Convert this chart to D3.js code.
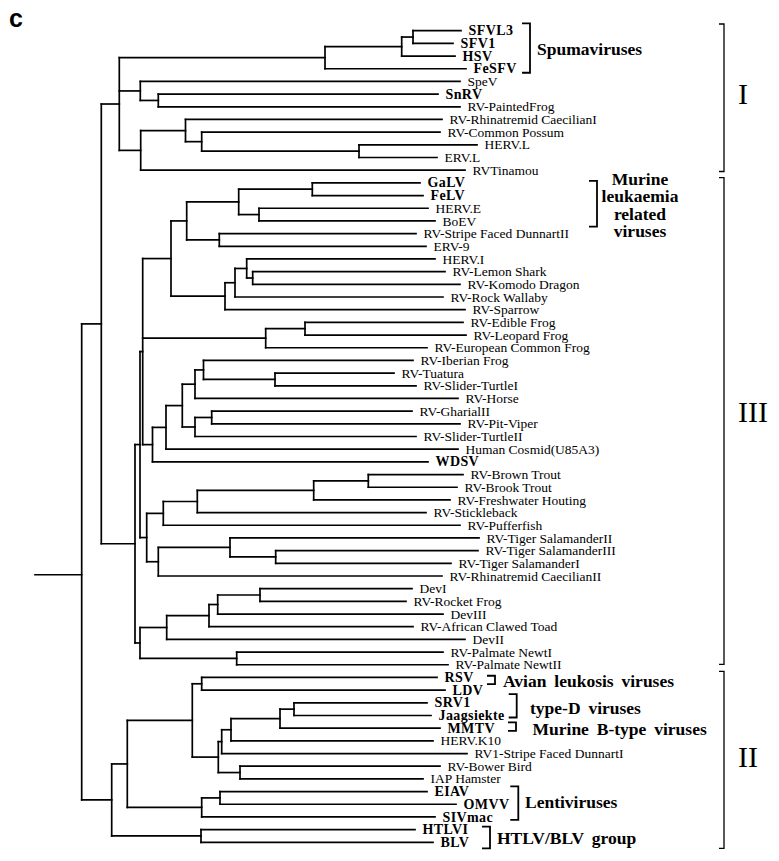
<!DOCTYPE html>
<html>
<head>
<meta charset="utf-8">
<script src="https://cdn.jsdelivr.net/npm/d3@7/dist/d3.min.js"></script>
<style>
  html, body { margin: 0; padding: 0; background: #fff; }
  svg { display: block; }
  .leaf { font-family: "Liberation Serif", "Times New Roman", serif; font-size: 13.5px; fill: #000; }
  .leaf.bold { font-weight: bold; font-size: 14px; letter-spacing: 0.4px; }
  .group { font-family: "Liberation Serif", "Times New Roman", serif; font-weight: bold; font-size: 17.5px; fill: #000; word-spacing: 3.5px; }
  .roman { font-family: "Liberation Serif", "Times New Roman", serif; font-size: 30px; fill: #000; }
  .panel { font-family: "Liberation Sans", Arial, sans-serif; font-weight: bold; font-size: 25px; fill: #000; }
</style>
</head>
<body>
<svg id="chart" width="779" height="861"></svg>
<script>
// ---------------- DATA ----------------
// Leaves, top to bottom
const leaves = [
  "SFVL3","SFV1","HSV","FeSFV","SpeV","SnRV","RV-PaintedFrog","RV-Rhinatremid CaecilianI",
  "RV-Common Possum","HERV.L","ERV.L","RVTinamou","GaLV","FeLV","HERV.E","BoEV",
  "RV-Stripe Faced DunnartII","ERV-9","HERV.I","RV-Lemon Shark","RV-Komodo Dragon","RV-Rock Wallaby","RV-Sparrow",
  "RV-Edible Frog","RV-Leopard Frog","RV-European Common Frog","RV-Iberian Frog","RV-Tuatura","RV-Slider-TurtleI",
  "RV-Horse","RV-GharialII","RV-Pit-Viper","RV-Slider-TurtleII","Human Cosmid(U85A3)","WDSV",
  "RV-Brown Trout","RV-Brook Trout","RV-Freshwater Houting","RV-Stickleback","RV-Pufferfish",
  "RV-Tiger SalamanderII","RV-Tiger SalamanderIII","RV-Tiger SalamanderI","RV-Rhinatremid CaecilianII",
  "DevI","RV-Rocket Frog","DevIII","RV-African Clawed Toad","DevII","RV-Palmate NewtI","RV-Palmate NewtII",
  "RSV","LDV","SRV1","Jaagsiekte","MMTV","HERV.K10","RV1-Stripe Faced DunnartI","RV-Bower Bird","IAP Hamster",
  "EIAV","OMVV","SIVmac","HTLVI","BLV"
];
// Tip depth (distance from root stub) for each leaf, same order
const tipDepth = [
  426,418,420,431,425,403,425,407,
  405,442,402,430,385,388,393,400,
  381,391,400,410,425,408,430,
  428,431,392,378,359,381,
  423,377,425,381,423,393,
  428,422,415,391,425,
  444,443,416,407,
  377,371,408,378,430,408,413,
  402,410,392,396,405,398,432,405,388,
  392,421,400,380,398
];
const boldLeaves = ["SFVL3","SFV1","HSV","FeSFV","SnRV","GaLV","FeLV","WDSV","RSV","LDV",
  "SRV1","Jaagsiekte","MMTV","EIAV","OMVV","SIVmac","HTLVI","BLV"];

// Internal nodes: [id, depth, children]
const nodes = [
  ["root", 46.7, ["A","B"]],
  ["A", 66.3, ["I","R3"]],
  ["I", 84.3, ["Sp","Se","L"]],
  ["Sp", 290, ["Sp1","FeSFV"]],
  ["Sp1", 366.7, ["Sp2","HSV"]],
  ["Sp2", 378, ["SFVL3","SFV1"]],
  ["Se", 105.3, ["SpeV","Se1"]],
  ["Se1", 123.3, ["SnRV","RV-PaintedFrog"]],
  ["L", 105.7, ["L1","RVTinamou"]],
  ["L1", 150.5, ["RV-Rhinatremid CaecilianI","L2"]],
  ["L2", 166.7, ["RV-Common Possum","L3"]],
  ["L3", 324, ["HERV.L","ERV.L"]],
  ["R3", 100, ["U","Z"]],
  ["U", 105, ["V","X"]],
  ["V", 107.7, ["G","Fr","W"]],
  ["G", 136, ["M","H"]],
  ["M", 151.7, ["M1","M2"]],
  ["M1", 203.7, ["M3","M4"]],
  ["M3", 277.3, ["GaLV","FeLV"]],
  ["M4", 224, ["HERV.E","BoEV"]],
  ["M2", 184.3, ["RV-Stripe Faced DunnartII","ERV-9"]],
  ["H", 190, ["H1","RV-Sparrow"]],
  ["H1", 200, ["H2","RV-Rock Wallaby"]],
  ["H2", 211.7, ["HERV.I","H3"]],
  ["H3", 217.7, ["RV-Lemon Shark","RV-Komodo Dragon"]],
  ["Fr", 230.7, ["Fr1","RV-European Common Frog"]],
  ["Fr1", 270, ["RV-Edible Frog","RV-Leopard Frog"]],
  ["W", 117.5, ["T1","WDSV"]],
  ["T1", 131, ["T2","Human Cosmid(U85A3)"]],
  ["T2", 147.3, ["T3","T5"]],
  ["T3", 160, ["T4","RV-Horse"]],
  ["T4", 168.5, ["RV-Iberian Frog","T6"]],
  ["T6", 240, ["RV-Tuatura","RV-Slider-TurtleI"]],
  ["T5", 160, ["T7","RV-Slider-TurtleII"]],
  ["T7", 176.7, ["RV-GharialII","RV-Pit-Viper"]],
  ["X", 111.7, ["F1","S1"]],
  ["F1", 128.3, ["F2","RV-Pufferfish"]],
  ["F2", 162.3, ["F3","RV-Stickleback"]],
  ["F3", 278.7, ["F4","RV-Freshwater Houting"]],
  ["F4", 333.3, ["RV-Brown Trout","RV-Brook Trout"]],
  ["S1", 123.3, ["S2","RV-Rhinatremid CaecilianII"]],
  ["S2", 195, ["RV-Tiger SalamanderII","S3"]],
  ["S3", 240.7, ["RV-Tiger SalamanderIII","RV-Tiger SalamanderI"]],
  ["Z", 105, ["Y","Pal"]],
  ["Y", 131.7, ["Y1","DevII"]],
  ["Y1", 174, ["Y2","RV-African Clawed Toad"]],
  ["Y2", 182.7, ["Y3","DevIII"]],
  ["Y3", 225, ["DevI","RV-Rocket Frog"]],
  ["Pal", 201.7, ["RV-Palmate NewtI","RV-Palmate NewtII"]],
  ["B", 76.7, ["C2","HT"]],
  ["C2", 92.3, ["C3","Le"]],
  ["C3", 157.3, ["AL","K"]],
  ["AL", 166.7, ["RSV","LDV"]],
  ["K", 183.3, ["K1","K5"]],
  ["K1", 186.7, ["K2","RV1-Stripe Faced DunnartI"]],
  ["K2", 196, ["K3","HERV.K10"]],
  ["K3", 245, ["K4","MMTV"]],
  ["K4", 259, ["SRV1","Jaagsiekte"]],
  ["K5", 205, ["RV-Bower Bird","IAP Hamster"]],
  ["Le", 166.7, ["Le1","SIVmac"]],
  ["Le1", 185, ["EIAV","OMVV"]],
  ["HT", 166, ["HTLVI","BLV"]]
];
// Root stub row (in leaf-row units)
const rootRow = 42.9;

// Group brackets: [label lines, first leaf, last leaf]
const groups = [
  [["Spumaviruses"], "SFVL3", "FeSFV"],
  [["Murine","leukaemia","related","viruses"], "GaLV", "BoEV"],
  [["Avian leukosis viruses"], "RSV", "LDV"],
  [["type-D viruses"], "SRV1", "Jaagsiekte"],
  [["Murine B-type viruses"], "MMTV", "MMTV"],
  [["Lentiviruses"], "EIAV", "SIVmac"],
  [["HTLV/BLV group"], "HTLVI", "BLV"]
];
const classes = [["I","SFVL3","RVTinamou"],["III","GaLV","RV-Palmate NewtII"],["II","RSV","BLV"]];

// ---------------- DRAW ----------------
const svg = d3.select("#chart");
svg.append("rect").attr("width", 779).attr("height", 861).attr("fill", "#fff");

const x = d3.scaleLinear().domain([0, 445]).range([35, 480]);
const y = d3.scaleLinear().domain([0, leaves.length - 1]).range([30.7, 842.3]);

const nodeMap = new Map(nodes.map(n => [n[0], n]));
const leafIndex = new Map(leaves.map((l, i) => [l, i]));
const posY = new Map(), posX = new Map();
function place(id) {
  if (posY.has(id)) return posY.get(id);
  let yy;
  if (leafIndex.has(id)) {
    const i = leafIndex.get(id);
    yy = y(i);
    posX.set(id, x(tipDepth[i]));
  } else {
    const n = nodeMap.get(id);
    const ys = n[2].map(place);
    yy = (ys[0] + ys[ys.length - 1]) / 2;
    posX.set(id, x(n[1]));
  }
  posY.set(id, yy);
  return yy;
}
place("root");

const segs = [];
nodes.forEach(n => {
  const nx = posX.get(n[0]);
  const cy = n[2].map(c => posY.get(c));
  segs.push([nx, cy[0], nx, cy[cy.length - 1]]);
  n[2].forEach(c => segs.push([nx, posY.get(c), posX.get(c), posY.get(c)]));
});
// root stub
segs.push([x(0), y(rootRow), posX.get("root"), y(rootRow)]);

const g = svg.append("g").attr("stroke", "#000").attr("stroke-width", 1.7).attr("stroke-linecap", "square");
g.selectAll("line.b").data(segs).join("line").attr("class", "b")
  .attr("x1", d => d[0]).attr("y1", d => d[1]).attr("x2", d => d[2]).attr("y2", d => d[3]);

// leaf labels
svg.append("g").selectAll("text").data(leaves).join("text")
  .attr("class", d => boldLeaves.includes(d) ? "leaf bold" : "leaf")
  .attr("x", (d, i) => x(tipDepth[i]) + 7.5)
  .attr("y", (d, i) => y(i) + 4.6)
  .text(d => d);

// panel label
svg.append("text").attr("class", "panel").attr("x", 9).attr("y", 27).text("c");

// group brackets (layout for annotations)
const gLayout = {
  "Spumaviruses": {bx: 530, top: -7.4, bot: 4, tx: 537, ty: 54.5},
  "Murine": {bx: 597, top: -2, bot: 5.7, tx: 640, ty: 185, center: true, lh: 17.4},
  "Avian leukosis viruses": {bx: 495, top: -1.7, bot: -6, tx: 503, ty: 687},
  "type-D viruses": {bx: 516.7, top: -8.6, bot: 2, tx: 530, ty: 713.5},
  "Murine B-type viruses": {bx: 516, top: -5.7, bot: 2.7, tx: 532.5, ty: 735},
  "Lentiviruses": {bx: 518.3, top: -5.3, bot: 3, tx: 525, ty: 808},
  "HTLV/BLV group": {bx: 490, top: -3, bot: 6, tx: 497, ty: 844}
};
const bg = svg.append("g").attr("stroke", "#000").attr("stroke-width", 1.8).attr("fill", "none");
groups.forEach(gr => {
  const L = gLayout[gr[0][0]];
  const y0 = y(leafIndex.get(gr[1])) + L.top;
  const y1 = y(leafIndex.get(gr[2])) + L.bot;
  bg.append("path").attr("d", `M${L.bx - 8},${y0}H${L.bx}V${y1}H${L.bx - 8}`);
  gr[0].forEach((t, k) => {
    svg.append("text").attr("class", "group")
      .attr("x", L.tx).attr("y", L.ty + k * (L.lh || 0))
      .attr("text-anchor", L.center ? "middle" : "start")
      .text(t);
  });
});

// class brackets
const cLayout = {"I": {top: -6.7, bot: 1.3, ty: 104}, "III": {top: -5.3, bot: -0.3, ty: 421.7}, "II": {top: -6, bot: 6, ty: 766.7}};
const cg = svg.append("g").attr("stroke", "#000").attr("stroke-width", 1.3).attr("fill", "none");
classes.forEach(c => {
  const L = cLayout[c[0]];
  const y0 = y(leafIndex.get(c[1])) + L.top;
  const y1 = y(leafIndex.get(c[2])) + L.bot;
  cg.append("path").attr("d", `M719,${y0}H724V${y1}H719`);
  svg.append("text").attr("class", "roman").attr("x", 738).attr("y", L.ty).text(c[0]);
});
</script>
</body>
</html>
